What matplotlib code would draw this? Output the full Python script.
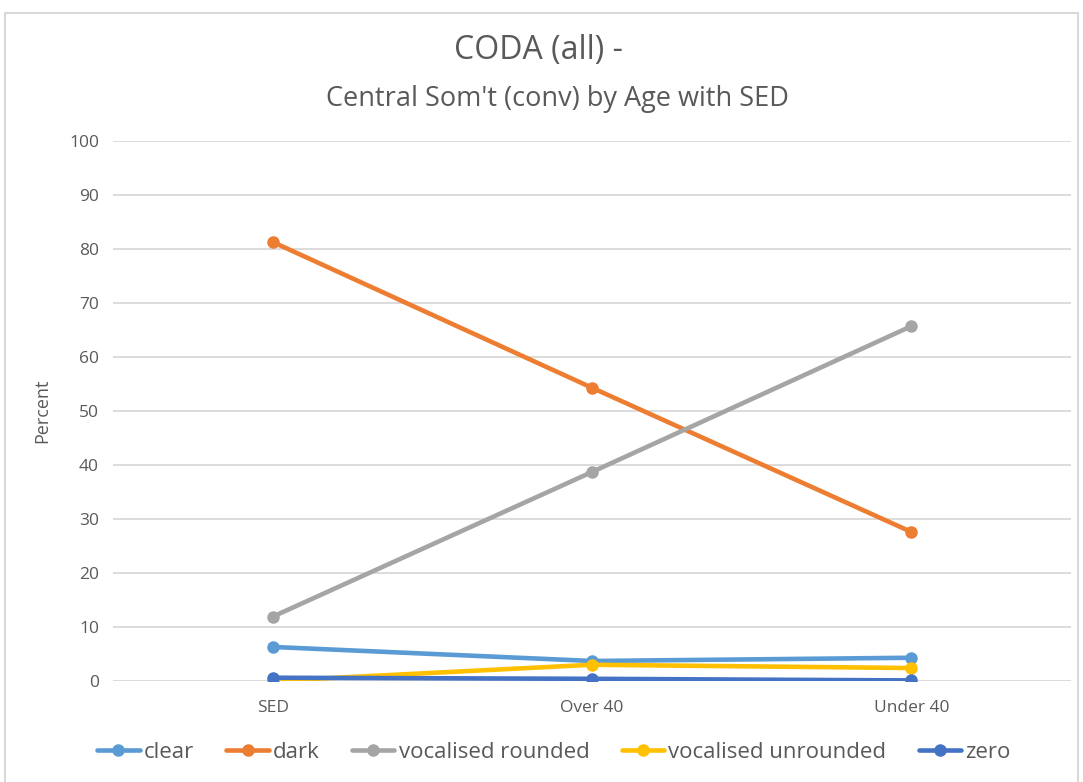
import matplotlib.pyplot as plt
from matplotlib.patches import Rectangle

plt.rcParams['font.family'] = ['Open Sans', 'DejaVu Sans']

# data
categories = ['SED', 'Over 40', 'Under 40']
clear = [6.3, 3.7, 4.3]
dark = [81.3, 54.3, 27.6]
vocalised_rounded = [11.9, 38.7, 65.7]
vocalised_unrounded = [0.0, 3.0, 2.4]
zero = [0.6, 0.4, 0.1]

series_names = ['clear', 'dark', 'vocalised rounded', 'vocalised unrounded', 'zero']
series_values = [clear, dark, vocalised_rounded, vocalised_unrounded, zero]
colors = ['#5B9BD5', '#ED7D31', '#A5A5A5', '#FFC000', '#4472C4']

text_col = '#595959'

fig = plt.figure(figsize=(10.83, 7.82), dpi=100)
ax = fig.add_axes([0.1043, 0.1292, 0.8846, 0.6905])

x = range(len(categories))
for name, vals, c in zip(series_names, series_values, colors):
    ax.plot(x, vals, color=c, lw=3.3, marker='o', markersize=8, label=name,
            solid_capstyle='round')

ax.set_xlim(-0.5, 2.5)
ax.set_ylim(0, 100)
ax.set_yticks(range(0, 101, 10))
ax.set_xticks(list(x))
ax.set_xticklabels(categories)
ax.tick_params(length=0, colors=text_col, labelsize=12.5)
ax.tick_params(axis='y', pad=10)
ax.tick_params(axis='x', pad=14)
ax.grid(axis='y', color='#D9D9D9', lw=1.3)
ax.set_axisbelow(True)
for s in ax.spines.values():
    s.set_visible(False)

ax.set_ylabel('Percent', color=text_col, fontsize=13)
ax.yaxis.set_label_coords(-0.064, 0.5)

fig.text(0.497, 0.935, 'CODA (all) -', ha='center', va='center', fontsize=23, color=text_col)
fig.text(0.515, 0.874, "Central Som't (conv) by Age with SED", ha='center', va='center',
         fontsize=19.5, color=text_col)

leg = fig.legend(loc='center', bbox_to_anchor=(0.5115, 0.038), ncol=5, frameon=False,
                 fontsize=16, handlelength=1.9, handletextpad=0.2, columnspacing=1.45,
                 labelcolor=text_col)

# thin gray border round the chart
fig.patches.append(Rectangle((5 / 1083, -0.01), 1073 / 1083, 1 - 13 / 782 + 0.01,
                             transform=fig.transFigure, fill=False,
                             edgecolor='#D9D9D9', lw=1.5))

fig.savefig('out.png', dpi=100)
